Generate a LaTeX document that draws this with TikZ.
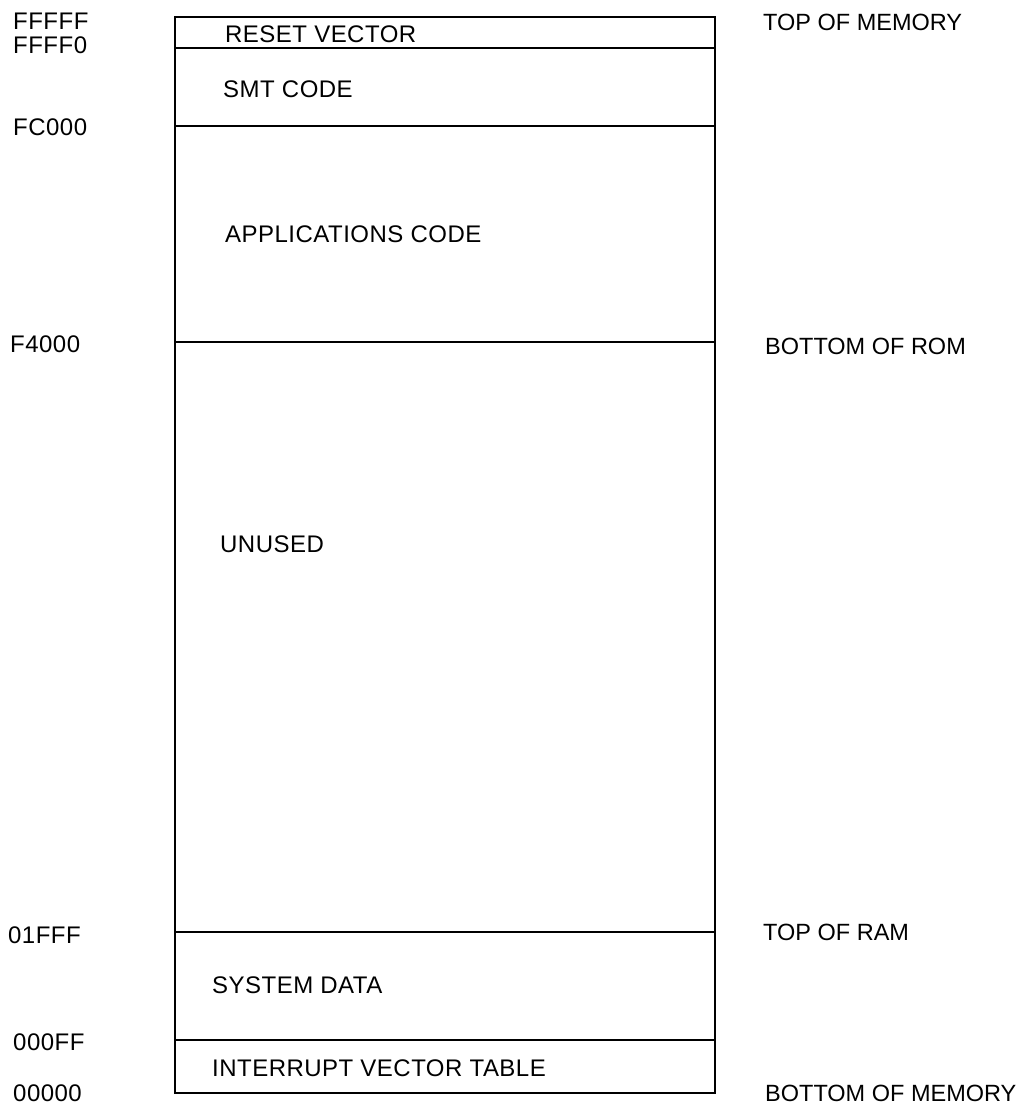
\documentclass[tikz,border=0pt]{standalone}
\usepackage{fontspec}
\setmainfont{Liberation Sans}[LetterSpace=2]
\newfontfamily\notefont{Liberation Sans}
\begin{document}
\begin{tikzpicture}[x=1pt,y=-1pt,
  mapline/.style={line width=2pt,black},
  lbl/.style={anchor=base west,inner sep=0pt,font=\fontsize{24}{28}\selectfont},
  note/.style={anchor=base west,inner sep=0pt,font=\notefont\fontsize{23.5}{28}\selectfont}]
\useasboundingbox (0,0) rectangle (1025,1111);
% memory map column
\coordinate (tl) at (175,17);
\coordinate (br) at (715,1093);
\draw[mapline] (tl) rectangle (br);
\foreach \yy/\nm in {48/l1,126/l2,342/l3,932/l4,1040/l5}{
  \draw[mapline] (175,\yy) coordinate (\nm a) -- (715,\yy) coordinate (\nm b);
}
% region names (baseline = centre + 8.6)
\node[lbl] (reset) at (225,42.6) {RESET VECTOR};
\node[lbl] (smt) at (223,97.6) {SMT CODE};
\node[lbl] (apps) at (225,242.6) {APPLICATIONS CODE};
\node[lbl] (unused) at (220,552.6) {UNUSED};
\node[lbl] (sysdata) at (212,993.6) {SYSTEM DATA};
\node[lbl] (ivt) at (212,1076.6) {INTERRUPT VECTOR TABLE};
% addresses
\node[lbl] (aFFFFF) at (13,29.6) {FFFFF};
\node[lbl] (aFFFF0) at (13,53.6) {FFFF0};
\node[lbl] (aFC000) at (13,135.6) {FC000};
\node[lbl] (aF4000) at (10,352.6) {F4000};
\node[lbl] (a01FFF) at (8,943.6) {01FFF};
\node[lbl] (a000FF) at (13,1050.6) {000FF};
\node[lbl] (a00000) at (13,1101.6) {00000};
% boundary notes
\node[note] (topmem) at (763,30.6) {TOP OF MEMORY};
\node[note] (botrom) at (765,354.6) {BOTTOM OF ROM};
\node[note] (topram) at (763,940.6) {TOP OF RAM};
\node[note] (botmem) at (765,1101.6) {BOTTOM OF MEMORY};
\end{tikzpicture}
\end{document}
